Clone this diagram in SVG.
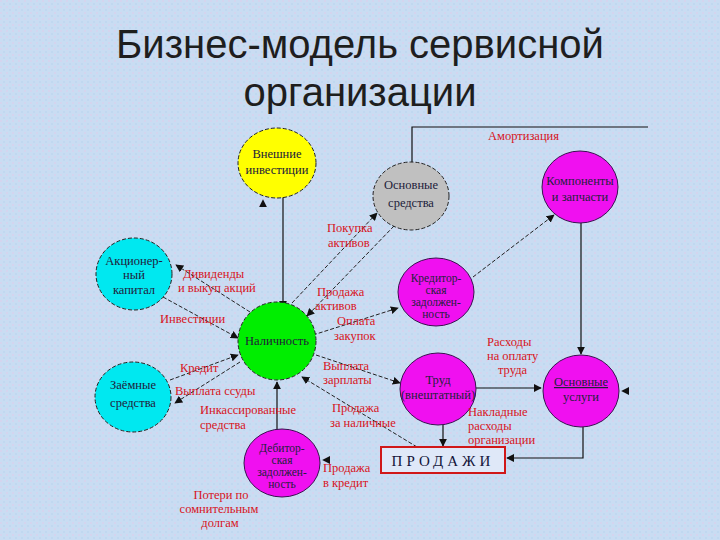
<svg xmlns="http://www.w3.org/2000/svg" width="720" height="540" viewBox="0 0 720 540">
<defs>
<marker id="ah" viewBox="0 0 10 10" refX="9" refY="5" markerWidth="8" markerHeight="8" markerUnits="userSpaceOnUse" orient="auto">
<path d="M0,0 L10,5 L0,10 z" fill="#111"/>
</marker>
<pattern id="bg" width="6" height="6" patternUnits="userSpaceOnUse">
<rect width="6" height="6" fill="#c9dcf2"/>
<rect x="0" y="0" width="2" height="2" fill="#d4d4ee"/>
<rect x="3" y="3" width="2" height="2" fill="#c0d8f0"/>
</pattern>
</defs>
<style>
.title{font-family:"Liberation Sans",Arial,sans-serif;font-size:40px;fill:#1e1e1e;text-anchor:middle}
.nt{font-family:"Liberation Serif","Times New Roman",serif;font-size:12.5px;fill:#20203a;text-anchor:middle}
.ns{font-size:11.5px}
.lb{font-family:"Liberation Serif","Times New Roman",serif;font-size:12.5px;fill:#d8141c}
.lc{text-anchor:middle}
.cd{stroke:#222;stroke-width:1;stroke-dasharray:4 2}
.mg{fill:#f010f0;stroke:#3a1050;stroke-width:1}
.con{fill:none;stroke:#111;stroke-width:1.2}
.dsh{fill:none;stroke:#222;stroke-width:1;stroke-dasharray:4 2}
.stub{fill:none;stroke:none}
</style>
<rect width="720" height="540" fill="url(#bg)"/>
<g id="title">
<text class="title" x="360" y="58">Бизнес-модель сервисной</text>
<text class="title" x="360" y="106">организации</text>
</g>
<g id="connectors">
<path class="con" d="M412,163 V127 H648"/>
<path class="con" d="M283,197 V308" marker-end="url(#ah)"/>
<path class="stub" d="M263,207 V200" marker-end="url(#ah)"/>
<path class="con" d="M581,223 V354" marker-end="url(#ah)"/>
<path class="dsh" d="M250,312 L176,265" marker-end="url(#ah)"/>
<path class="dsh" d="M163,297 L238,338" marker-end="url(#ah)"/>
<path class="dsh" d="M292,303 L377,213" marker-end="url(#ah)"/>
<path class="dsh" d="M394,226 L307,316" marker-end="url(#ah)"/>
<path class="dsh" d="M313,335 L398,308" marker-end="url(#ah)"/>
<path class="dsh" d="M473,277 L554,215" marker-end="url(#ah)"/>
<path class="dsh" d="M170,380 L238,355" marker-end="url(#ah)"/>
<path class="dsh" d="M240,362 L175,403" marker-end="url(#ah)"/>
<path class="con" d="M277,430 V382" marker-end="url(#ah)"/>
<path class="dsh" d="M316,355 L400,383" marker-end="url(#ah)"/>
<path class="dsh" d="M417,447 L302,377" marker-end="url(#ah)"/>
<path class="con" d="M443,425 V446" marker-end="url(#ah)"/>
<path class="con" d="M476,388 H541" marker-end="url(#ah)"/>
<path class="con" d="M583,427 V458 H507" marker-end="url(#ah)"/>
<path class="stub" d="M330,460 H323" marker-end="url(#ah)"/>
<path class="stub" d="M630,391 H622" marker-end="url(#ah)"/>
</g>
<g id="vneshnie">
<ellipse cx="277" cy="163" rx="39" ry="35" fill="#ffff00" class="cd"/>
<text class="nt" x="277" y="158">Внешние</text>
<text class="nt" x="277" y="174">инвестиции</text>
</g>
<g id="osnovnye-sredstva">
<ellipse cx="411" cy="196" rx="38" ry="34" fill="#c0c0c0" class="cd"/>
<text class="nt" x="411" y="189">Основные</text>
<text class="nt" x="411" y="207">средства</text>
</g>
<g id="komponenty">
<ellipse cx="580" cy="187" rx="38" ry="36" class="mg"/>
<text class="nt" x="580" y="185">Компоненты</text>
<text class="nt" x="580" y="201">и запчасти</text>
</g>
<g id="akcionerny">
<ellipse cx="134" cy="274" rx="38" ry="36" fill="#00e8f0" class="cd"/>
<text class="nt" x="134" y="265">Акционер-</text>
<text class="nt" x="134" y="279">ный</text>
<text class="nt" x="134" y="294">капитал</text>
</g>
<g id="nalichnost">
<ellipse cx="277" cy="341" rx="39" ry="39" fill="#00ee00" class="cd"/>
<text class="nt" x="277" y="345">Наличность</text>
</g>
<g id="kreditorskaya">
<ellipse cx="436" cy="292" rx="38" ry="34" class="mg"/>
<text class="nt ns" x="436" y="282">Кредитор-</text>
<text class="nt ns" x="436" y="294">ская</text>
<text class="nt ns" x="436" y="306">задолжен-</text>
<text class="nt ns" x="436" y="318">ность</text>
</g>
<g id="zaemnye">
<ellipse cx="133" cy="397" rx="38" ry="35" fill="#00e8f0" class="cd"/>
<text class="nt" x="133" y="389">Заёмные</text>
<text class="nt" x="133" y="407">средства</text>
</g>
<g id="trud">
<ellipse cx="438" cy="389" rx="38" ry="36" class="mg"/>
<text class="nt" x="438" y="384">Труд</text>
<text class="nt" x="438" y="399" font-size="10.5">(внештатный)</text>
</g>
<g id="osnovnye-uslugi">
<ellipse cx="581" cy="391" rx="38" ry="36" class="mg"/>
<text class="nt" x="581" y="386" text-decoration="underline">Основные</text>
<text class="nt" x="581" y="401">услуги</text>
</g>
<g id="debitorskaya">
<ellipse cx="282" cy="463" rx="38" ry="34" class="mg"/>
<text class="nt ns" x="282" y="452">Дебитор-</text>
<text class="nt ns" x="282" y="464">ская</text>
<text class="nt ns" x="282" y="476">задолжен-</text>
<text class="nt ns" x="282" y="488">ность</text>
</g>
<g id="prodazhi">
<rect x="381" y="447" width="124" height="26" fill="#dfe8f8" stroke="#d01818" stroke-width="2"/>
<text x="443" y="466" text-anchor="middle" font-family="Liberation Serif, Times New Roman, serif" font-size="15" fill="#14143a" letter-spacing="4">ПРОДАЖИ</text>
</g>
<g id="labels">
<text class="lb" x="488" y="140">Амортизация</text>
<text class="lb" x="327" y="232">Покупка</text>
<text class="lb" x="328" y="247">активов</text>
<text class="lb" x="183" y="278">Дивиденды</text>
<text class="lb" x="178" y="292">и выкуп акций</text>
<text class="lb" x="317" y="296">Продажа</text>
<text class="lb" x="315" y="310">активов</text>
<text class="lb" x="160" y="323">Инвестиции</text>
<text class="lb" x="337" y="325">Оплата</text>
<text class="lb" x="334" y="340">закупок</text>
<text class="lb" x="487" y="346">Расходы</text>
<text class="lb" x="487" y="360">на оплату</text>
<text class="lb" x="498" y="374">труда</text>
<text class="lb" x="323" y="370">Выплата</text>
<text class="lb" x="323" y="384">зарплаты</text>
<text class="lb" x="180" y="372">Кредит</text>
<text class="lb" x="175" y="395">Выплата ссуды</text>
<text class="lb" x="332" y="412">Продажа</text>
<text class="lb" x="330" y="427">за наличные</text>
<text class="lb" x="200" y="414">Инкассированные</text>
<text class="lb" x="200" y="429">средства</text>
<text class="lb" x="468" y="416">Накладные</text>
<text class="lb" x="468" y="430">расходы</text>
<text class="lb" x="468" y="444">организации</text>
<text class="lb" x="323" y="472">Продажа</text>
<text class="lb" x="323" y="487">в кредит</text>
<text class="lb lc" x="221" y="499">Потери по</text>
<text class="lb lc" x="219" y="513">сомнительным</text>
<text class="lb lc" x="220" y="527">долгам</text>
</g>
</svg>
